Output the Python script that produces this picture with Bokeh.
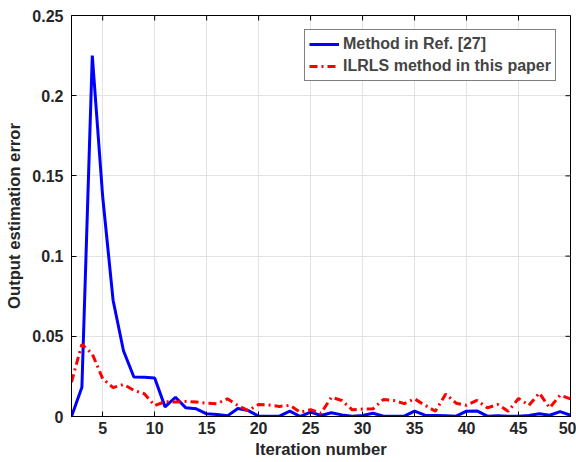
import math
from bokeh.plotting import figure
from bokeh.models import FixedTicker, Range1d, Legend, LegendItem
from bokeh.embed import file_html
from bokeh.resources import INLINE

iterations = list(range(2, 51))
method_ref27 = [0.0, 0.0183, 0.225, 0.137, 0.0725, 0.041, 0.0246, 0.0245, 0.024, 0.006,
                0.012, 0.0054, 0.0048, 0.0017, 0.0013, 0.0004, 0.005, 0.0037, 0.0002, 0.0002,
                0.0002, 0.0033, 0.0, 0.0027, 0.0006, 0.0023, 0.001, 0.0002, 0.0006, 0.002,
                0.0002, 0.0002, 0.0002, 0.0033, 0.0008, 0.0006, 0.0004, 0.0002, 0.0033, 0.0035,
                0.0002, 0.0004, 0.0002, 0.0002, 0.0006, 0.0017, 0.0008, 0.003, 0.0008]
ilrls = [0.0215, 0.045, 0.039, 0.0236, 0.018, 0.02, 0.0163, 0.0142, 0.0068, 0.0093,
         0.009, 0.0094, 0.009, 0.0083, 0.008, 0.011, 0.0069, 0.0037, 0.0075, 0.0071,
         0.0063, 0.007, 0.0027, 0.0042, 0.002, 0.012, 0.01, 0.0042, 0.0046, 0.0048,
         0.0106, 0.01, 0.008, 0.011, 0.007, 0.0033, 0.014, 0.0083, 0.007, 0.01,
         0.0054, 0.0075, 0.0033, 0.0112, 0.007, 0.0146, 0.0054, 0.0133, 0.011]
x_ticks = [5, 10, 15, 20, 25, 30, 35, 40, 45, 50]
y_ticks = [0, 0.05, 0.1, 0.15, 0.2, 0.25]
y_tick_labels = ["0", "0.05", "0.1", "0.15", "0.2", "0.25"]
legend_labels = ["Method in Ref. [27]", "ILRLS method in this paper"]
x_min, x_max = 2, 50
y_min, y_max = 0, 0.25

FONT = "Liberation Sans"

p = figure(width=576, height=462, output_backend="svg", toolbar_location=None,
           x_range=Range1d(x_min, x_max), y_range=Range1d(y_min, y_max),
           min_border_left=71, min_border_right=6, min_border_top=15, min_border_bottom=46)
p.outline_line_color = "black"
p.outline_line_width = 1
p.background_fill_color = "white"
p.border_fill_color = "white"

p.xgrid.ticker = FixedTicker(ticks=x_ticks)
p.ygrid.ticker = FixedTicker(ticks=y_ticks)
p.grid.grid_line_color = "#e3e3e3"
p.grid.grid_line_width = 1

# inward tick marks on the top and right edges (MATLAB box style)
p.scatter(x_ticks, [y_max] * len(x_ticks), marker="dash", angle=math.pi / 2,
          size=10, line_color="black", line_width=1)
p.scatter([x_max] * len(y_ticks), y_ticks, marker="dash",
          size=10, line_color="black", line_width=1)

r1 = p.line(iterations, method_ref27, line_color="#0000ff", line_width=3)
r2 = p.line(iterations, ilrls, line_color="#ff0000", line_width=3, line_dash="8 4 2 4")

for ax in (p.xaxis[0], p.yaxis[0]):
    ax.major_tick_in = 5
    ax.major_tick_out = 0
    ax.minor_tick_line_color = None
    ax.axis_line_color = "black"
    ax.major_tick_line_color = "black"
    ax.major_label_text_font = FONT
    ax.major_label_text_font_style = "bold"
    ax.major_label_text_font_size = "12pt"
    ax.major_label_text_color = "#262626"
    ax.axis_label_text_font = FONT
    ax.axis_label_text_font_style = "bold"
    ax.axis_label_text_font_size = "12.5pt"
    ax.axis_label_text_color = "#262626"

p.xaxis[0].ticker = FixedTicker(ticks=x_ticks)
p.yaxis[0].ticker = FixedTicker(ticks=y_ticks)
p.yaxis[0].major_label_overrides = {t: l for t, l in zip(y_ticks, y_tick_labels)}
p.xaxis[0].axis_label = "Iteration number"
p.yaxis[0].axis_label = "Output estimation error"
p.xaxis[0].major_label_standoff = 5
p.yaxis[0].major_label_standoff = 8
p.xaxis[0].axis_label_standoff = 3
p.yaxis[0].axis_label_standoff = 5

legend = Legend(items=[LegendItem(label=legend_labels[0], renderers=[r1]),
                       LegendItem(label=legend_labels[1], renderers=[r2])],
                location="top_right")
legend.label_text_font = FONT
legend.label_text_font_style = "bold"
legend.label_text_font_size = "12pt"
legend.border_line_color = "black"
legend.border_line_width = 1
legend.glyph_width = 30
legend.glyph_height = 20
legend.label_standoff = 4
legend.spacing = 2
legend.padding = 4
legend.margin = 14
legend.label_height = 20
p.add_layout(legend, "center")

open("out.html", "w").write(file_html(p, INLINE))
